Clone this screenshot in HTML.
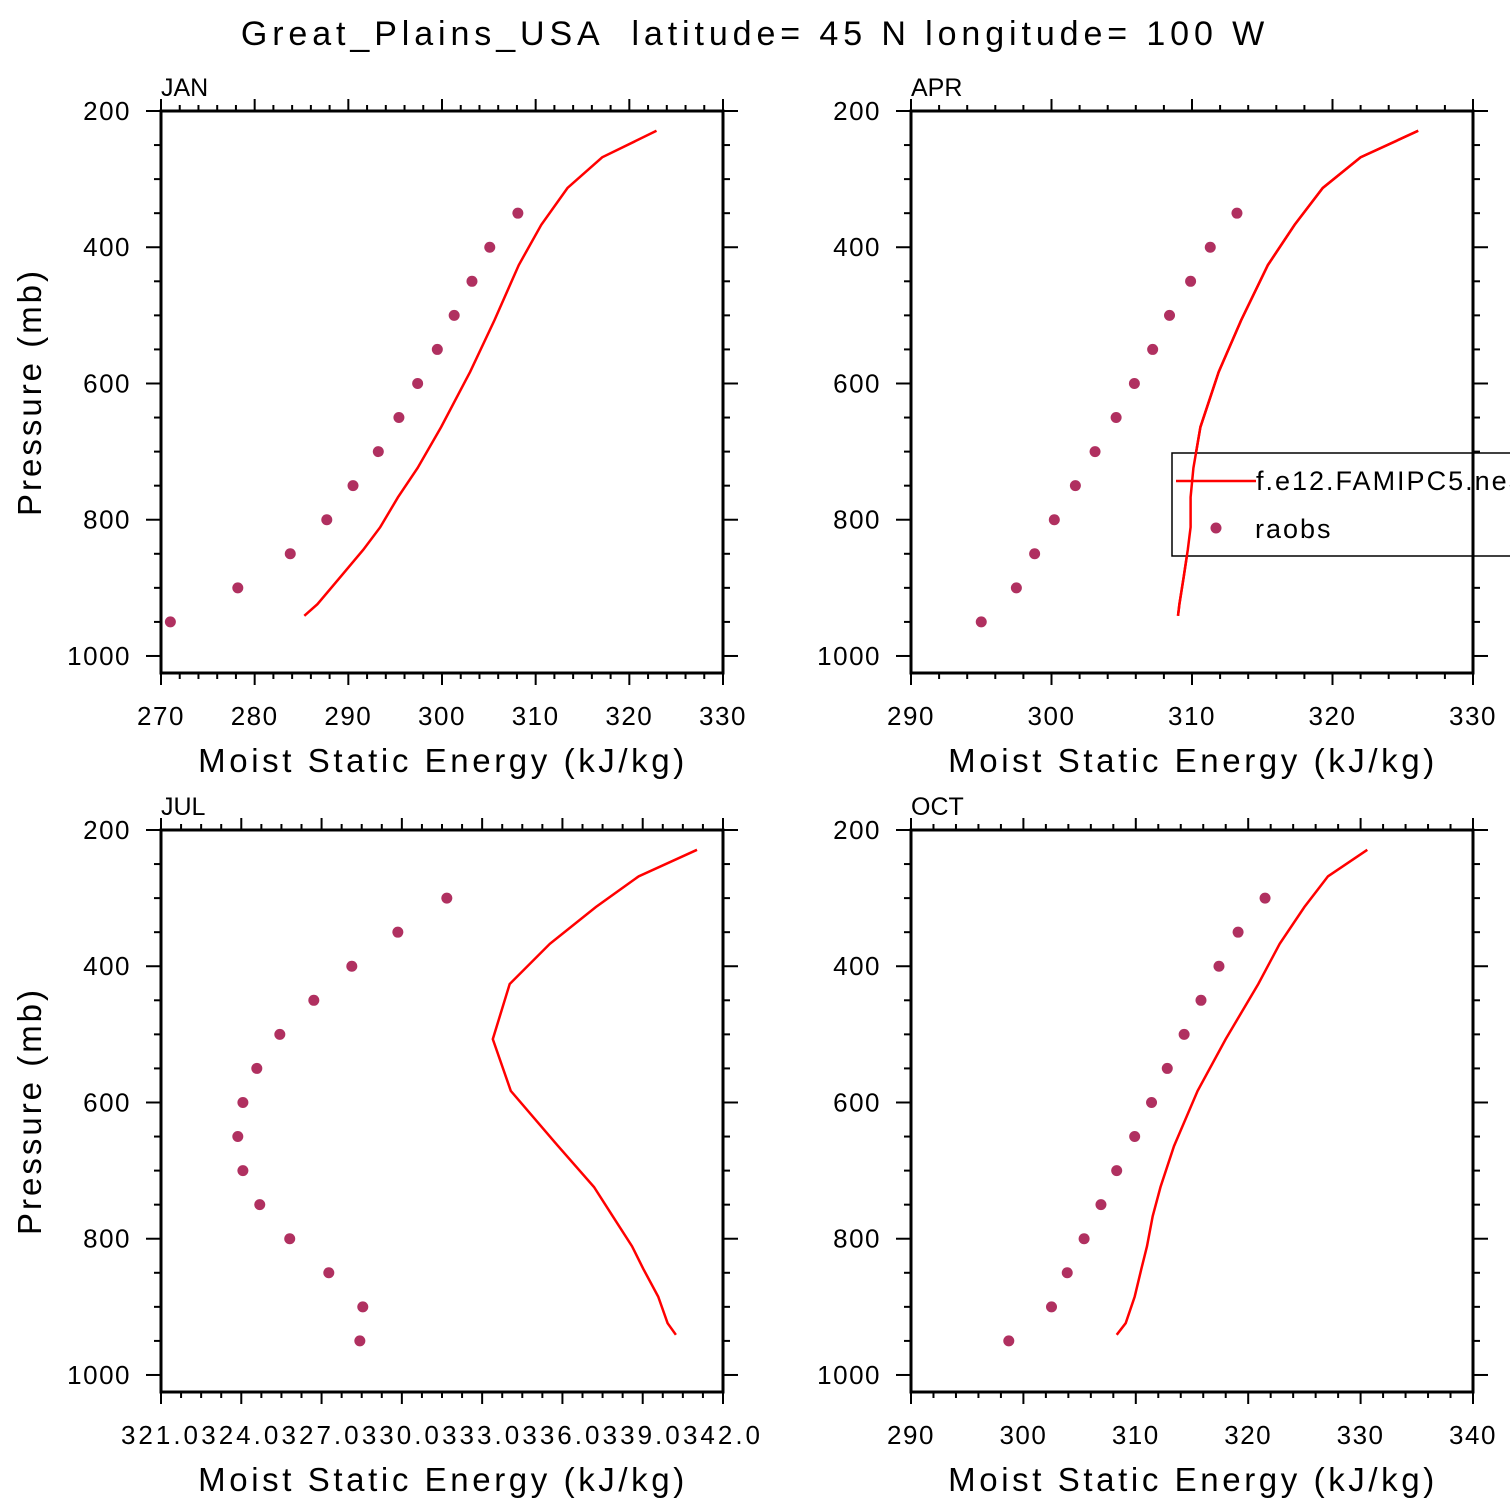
<!DOCTYPE html>
<html><head><meta charset="utf-8"><style>
html,body{margin:0;padding:0;background:#fff}
svg{display:block}
text{font-family:"Liberation Sans","DejaVu Sans",sans-serif;fill:#000}
</style></head><body>
<svg id="c" width="1510" height="1510" viewBox="0 0 1510 1510" xmlns="http://www.w3.org/2000/svg">
<text x="755" y="45" text-anchor="middle" font-size="34" letter-spacing="4.9" xml:space="preserve">Great_Plains_USA  latitude= 45 N longitude= 100 W</text>
</svg>
<script>
// Shared pressure levels
const obsLevels = [950,900,850,800,750,700,650,600,550,500,450,400,350,300];
const modelLevels = [941,924,885,844,811,767,724,664,583,507,426,367,313,268,229];
// JAN
const janObs = [271.0,278.2,283.8,287.7,290.5,293.2,295.4,297.4,299.5,301.3,303.2,305.1,308.1,null];
const janModel = [285.3,286.7,289.1,291.6,293.4,295.3,297.4,299.9,303.0,305.6,308.2,310.6,313.4,317.1,322.9];
// APR
const aprObs = [295.0,297.5,298.8,300.2,301.7,303.1,304.6,305.9,307.2,308.4,309.9,311.3,313.2,null];
const aprModel = [309.0,309.1,309.4,309.7,309.9,309.9,310.1,310.6,311.9,313.5,315.4,317.3,319.3,322.0,326.1];
// JUL
const julObs = [328.43,328.54,327.27,325.81,324.69,324.06,323.87,324.06,324.58,325.44,326.71,328.13,329.85,331.68];
const julModel = [340.24,339.93,339.58,339.02,338.6,337.88,337.18,335.84,334.07,333.4,334.03,335.53,337.25,338.85,341.03];
// OCT
const octObs = [298.7,302.5,303.9,305.4,306.9,308.3,309.9,311.4,312.8,314.3,315.8,317.4,319.1,321.5];
const octModel = [308.3,309.1,309.9,310.5,311.0,311.5,312.2,313.4,315.5,318.0,320.9,322.8,325.0,327.1,330.6];
// Axis ticks
const yTicks = [200,400,600,800,1000];
const janX = [270,280,290,300,310,320,330];
const aprX = [290,300,310,320,330];
const julX = [321.0,324.0,327.0,330.0,333.0,336.0,339.0,342.0];
const octX = [290,300,310,320,330,340];

const NS="http://www.w3.org/2000/svg";
const svg=document.getElementById('c');
function mk(tag,attrs,parent){const e=document.createElementNS(NS,tag);for(const k in attrs)e.setAttribute(k,attrs[k]);(parent||svg).appendChild(e);return e;}

const panels=[
 {name:'jan',label:'JAN',x0:161,y0:111,xt:janX,minor:5,obs:janObs,model:janModel,fmt:v=>v.toFixed(0),ls:1.5},
 {name:'apr',label:'APR',x0:911,y0:111,xt:aprX,minor:5,obs:aprObs,model:aprModel,fmt:v=>v.toFixed(0),legend:true,ls:1.5},
 {name:'jul',label:'JUL',x0:161,y0:830,xt:julX,minor:4,obs:julObs,model:julModel,fmt:v=>v.toFixed(1),ls:3},
 {name:'oct',label:'OCT',x0:911,y0:830,xt:octX,minor:5,obs:octObs,model:octModel,fmt:v=>v.toFixed(0),ls:1.5}
];
const W=562,H=562,pMin=200,pMax=1025;
panels.forEach(p=>{
  const g=mk('g',{});
  
  
  const xmin=p.xt[0],xmax=p.xt[p.xt.length-1];
  const sx=v=>p.x0+(v-xmin)/(xmax-xmin)*W;
  const sy=v=>p.y0+(v-pMin)/(pMax-pMin)*H;
  const tg=mk('g',{stroke:'#000','stroke-width':2},g);
  for(let i=0;i<p.xt.length;i++){
    const x=sx(p.xt[i]);
    mk('line',{x1:x,x2:x,y1:p.y0,y2:p.y0-12},tg);
    mk('line',{x1:x,x2:x,y1:p.y0+H,y2:p.y0+H+12},tg);
    if(i<p.xt.length-1){
      for(let k=1;k<p.minor;k++){
        const xm=sx(p.xt[i]+(p.xt[i+1]-p.xt[i])*k/p.minor);
        mk('line',{x1:xm,x2:xm,y1:p.y0,y2:p.y0-6},tg);
        mk('line',{x1:xm,x2:xm,y1:p.y0+H,y2:p.y0+H+6},tg);
      }
    }
    const t=mk('text',{x:x,y:p.y0+H+52,'text-anchor':'middle','font-size':26,'letter-spacing':p.ls},g);
    t.textContent=p.fmt(p.xt[i]);
    
    
  }
  for(let v=200;v<=1000;v+=50){
    const y=sy(v),maj=v%200===0,L=maj?15:7;
    mk('line',{x1:p.x0,x2:p.x0-L,y1:y,y2:y},tg);
    mk('line',{x1:p.x0+W,x2:p.x0+W+L,y1:y,y2:y},tg);
  }
  yTicks.forEach(v=>{
    const t=mk('text',{x:p.x0-30,y:sy(v)+9,'text-anchor':'end','font-size':26,'letter-spacing':1.5},g);
    t.textContent=v;
    
    
  });
  const fr=mk('rect',{x:p.x0,y:p.y0,width:W,height:H,fill:'none',stroke:'#000','stroke-width':3},g);
  
  
  const lb=mk('text',{x:p.x0,y:p.y0-15,'font-size':25},g);
  lb.textContent=p.label;
  
  
  const xt=mk('text',{x:p.x0+W/2+1,y:p.y0+H+99,'text-anchor':'middle','font-size':33,'letter-spacing':'3.6'},g);
  xt.textContent='Moist Static Energy (kJ/kg)';
  
  
  if(p.x0<500){
    const yt=mk('text',{x:0,y:0,'text-anchor':'middle','font-size':33,'letter-spacing':'3',transform:`translate(41,${p.y0+281}) rotate(-90)`},g);
    yt.textContent='Pressure (mb)';
    
    
  }
  const pts=p.model.map((v,i)=>sx(v).toFixed(1)+','+sy(modelLevels[i]).toFixed(1)).join(' ');
  const pl=mk('polyline',{points:pts,fill:'none',stroke:'#ff0000','stroke-width':2.5},g);
  
  
  p.obs.forEach((v,i)=>{
    if(v===null)return;
    const c=mk('circle',{cx:sx(v),cy:sy(obsLevels[i]),r:5.5,fill:'#b03060'},g);
    
    
  });
  if(p.legend){
    const lg=mk('g',{},svg);
    
    
    mk('rect',{x:1172,y:453,width:360,height:103,fill:'#fff',stroke:'#000','stroke-width':1.5},lg);
    mk('line',{x1:1176,x2:1256,y1:481,y2:481,stroke:'#ff0000','stroke-width':2.5},lg);
    const t1=mk('text',{x:1256,y:490,'font-size':27,'letter-spacing':'2'},lg);
    t1.textContent='f.e12.FAMIPC5.ne30';
    
    
    mk('circle',{cx:1216,cy:528,r:5.5,fill:'#b03060'},lg);
    const t2=mk('text',{x:1255,y:538,'font-size':27,'letter-spacing':'2'},lg);
    t2.textContent='raobs';
    
    
    mk('line',{x1:1473,x2:1473,y1:453,y2:556,stroke:'#000','stroke-width':3},lg);
    const ov=mk('polyline',{points:pts,fill:'none',stroke:'#ff0000','stroke-width':2.5},lg);
    
    
  }
});
</script>
</body></html>
